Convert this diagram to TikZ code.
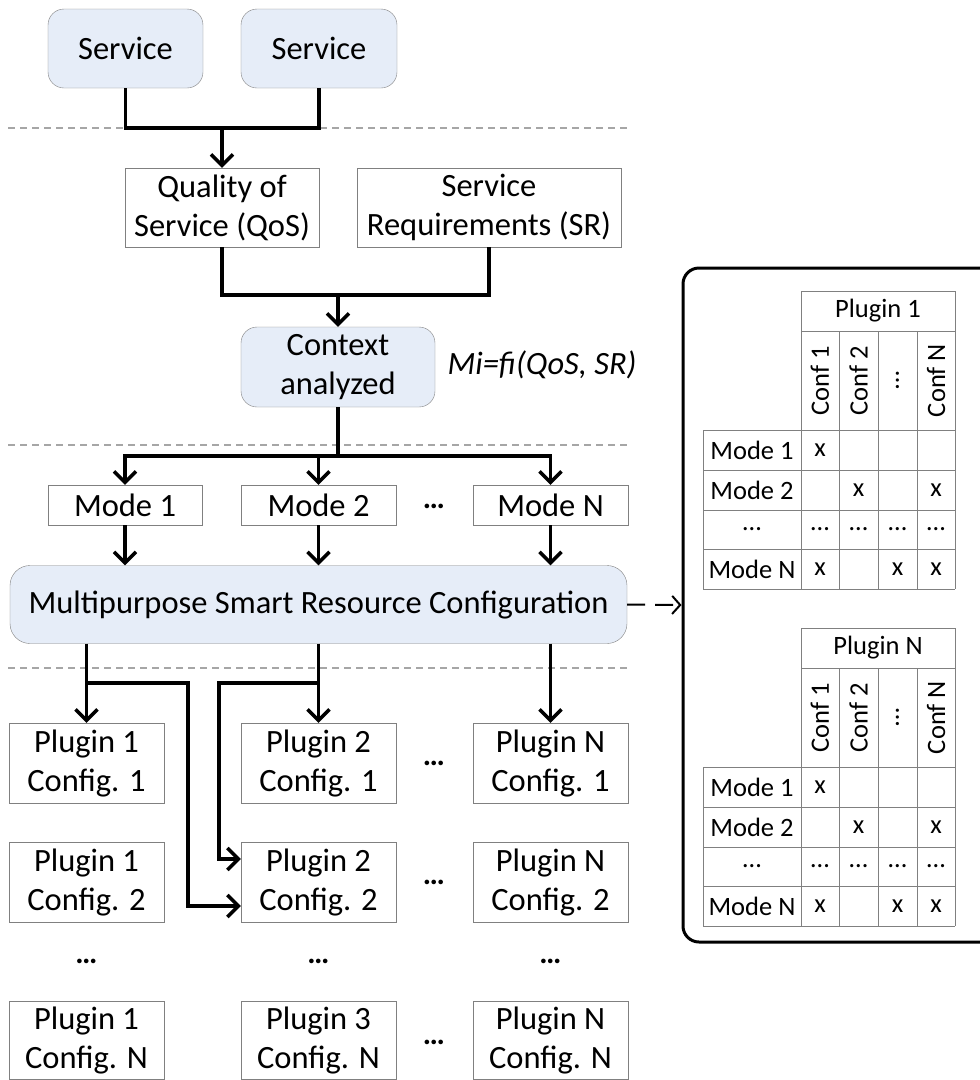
\documentclass[tikz,border=0pt]{standalone}
\usepackage{fontspec}
\setmainfont{Carlito}
\usepackage{xcolor}
\usetikzlibrary{arrows.meta, positioning}

\definecolor{svcfill}{RGB}{230,237,248}
\definecolor{edgegray}{RGB}{128,128,128}

\begin{document}
\begin{tikzpicture}[x=1pt, y=-1pt,
        font=\fontsize{32.5}{39}\selectfont,
        svc/.style={draw=edgegray, fill=svcfill, rounded corners=16pt, align=center, inner sep=0pt},
        box/.style={draw=edgegray, fill=white, align=center, inner sep=0pt},
        wire/.style={line width=3.5pt},
        link/.style={line width=3.5pt, -{Straight Barb[length=11pt, width=22pt]}},
        sep/.style={draw=gray!70, line width=1.3pt, dash pattern=on 7pt off 5pt},
        tline/.style={draw=edgegray, line width=1pt},
        tcell/.style={font=\fontsize{26.5}{30}\selectfont, inner sep=0pt},
        dots/.style={font=\fontsize{31}{39}\selectfont\bfseries, inner sep=0pt}]

        \useasboundingbox (0,0) rectangle (980,1080);

        \draw[sep] (8,128) -- (628,128);
        \draw[sep] (8,445) -- (628,445);
        \draw[sep] (8,668) -- (628,668);

        \node[svc, minimum width=155pt, minimum height=79pt] at (125.5, 48.5) (s1) {Service};
        \node[svc, minimum width=156pt, minimum height=79pt] at (319, 48.5) (s2) {Service};

        \node[box, minimum width=194pt, minimum height=79pt] at (222, 207.5) (qos) {Quality of\\Service (QoS)};
        \node[box, minimum width=264pt, minimum height=79pt] at (489, 207.5) (sr) {Service\\Requirements (SR)};

        \node[svc, minimum width=194pt, minimum height=80pt] at (338, 367) (ctx) {Context\\analyzed};
        \node[anchor=west, font=\fontsize{32.5}{39}\selectfont\itshape] at (444, 365) (rule) {Mi=fi(QoS, SR)};

        \node[box, minimum width=154pt, minimum height=40pt] at (125, 505) (m1) {Mode 1};
        \node[box, minimum width=155pt, minimum height=40pt] at (318.5, 505) (m2) {Mode 2};
        \node[dots] at (434, 506) (mdots) {…};
        \node[box, minimum width=155pt, minimum height=40pt] at (550.5, 505) (mN) {Mode N};

        \node[svc, rounded corners=20pt, minimum width=617pt, minimum height=78pt] at (318.5, 604.5) (msrc) {Multipurpose Smart Resource Configuration};

        \node[box, minimum width=155pt, minimum height=80pt] at (86.5, 763) (p11) {Plugin 1\\Config. 1};
        \node[box, minimum width=155pt, minimum height=80pt] at (318.5, 763) (p21) {Plugin 2\\Config. 1};
        \node[box, minimum width=155pt, minimum height=80pt] at (550.5, 763) (pN1) {Plugin N\\Config. 1};
        \node[box, minimum width=155pt, minimum height=80pt] at (86.5, 882) (p12) {Plugin 1\\Config. 2};
        \node[box, minimum width=155pt, minimum height=80pt] at (318.5, 882) (p22) {Plugin 2\\Config. 2};
        \node[box, minimum width=155pt, minimum height=80pt] at (550.5, 882) (pN2) {Plugin N\\Config. 2};
        \node[box, minimum width=155pt, minimum height=78pt] at (86.5, 1040) (p1N) {Plugin 1\\Config. N};
        \node[box, minimum width=155pt, minimum height=78pt] at (318.5, 1040) (p3N) {Plugin 3\\Config. N};
        \node[box, minimum width=155pt, minimum height=78pt] at (550.5, 1040) (pNN) {Plugin N\\Config. N};

        \node[dots] at (434, 763) (hd1) {…};
        \node[dots] at (434, 882) (hd2) {…};
        \node[dots] at (434, 1042) (hd3) {…};
        \node[dots] at (86.5, 961) (vd1) {…};
        \node[dots] at (318.5, 961) (vd2) {…};
        \node[dots] at (550.5, 961) (vd3) {…};

        % services to QoS
        \coordinate (j1) at (222, 128);
        \draw[wire] (s1.south) |- (j1) -| (s2.south);
        \draw[link] (j1) -- (qos.north);

        % QoS and SR to context
        \coordinate (j2) at (338, 295);
        \draw[wire] (qos.south) |- (j2) -| (sr.south);
        \draw[link] (j2) -- (ctx.north);

        % context to modes
        \coordinate (j3) at (338, 456);
        \draw[wire] (ctx.south) -- (j3);
        \draw[link] (j3) -| (m1.north);
        \draw[link] (j3) -| (mN.north);
        \draw[link] (m2.north |- j3) -- (m2.north);

        \draw[link] (m1.south) -- (m1.south |- msrc.north);
        \draw[link] (m2.south) -- (m2.south |- msrc.north);
        \draw[link] (mN.south) -- (mN.south |- msrc.north);

        % configuration to plugins
        \coordinate (b1) at (188, 683);
        \coordinate (b2) at (219, 683);
        \draw[link] (msrc.south -| p11.north) -- (p11.north);
        \draw[link] (msrc.south -| p21.north) -- (p21.north);
        \draw[link] (msrc.south -| pN1.north) -- (pN1.north);
        \draw[link] (p11.north |- b1) -- (b1) |- ([yshift=-24pt]p22.west);
        \draw[link] (p21.north |- b2) -- (b2) |- ([yshift=23pt]p22.west);

        % mode/config tables
        \node[draw, line width=3pt, rounded corners=16pt, minimum width=330pt, minimum height=674pt] at (848, 605) (panel) {};
        \draw[line width=2pt, dash pattern=on 18pt off 10pt, -{Straight Barb[length=8pt, width=18pt]}] (msrc.east) -- (panel.west);

        \foreach \dy/\tn/\plug in {0/ta/Plugin 1, 337/tb/Plugin N}{
            \begin{scope}[shift={(0,\dy)}]
                \draw[tline] (801,291) rectangle (955,331);
                \foreach \x in {801,839,878,917,955} \draw[tline] (\x,331) -- (\x,589);
                \foreach \y in {430,470,510,549,589} \draw[tline] (703,\y) -- (955,\y);
                \draw[tline] (703,430) -- (703,589);
                \node[tcell] at (878, 311) (\tn-head) {\plug};
                \node[tcell, rotate=90] at (820, 380.5) (\tn-c1) {Conf 1};
                \node[tcell, rotate=90] at (858.5, 380.5) (\tn-c2) {Conf 2};
                \node[tcell, rotate=90] at (897.5, 380.5) (\tn-c3) {…};
                \node[tcell, rotate=90] at (936, 380.5) (\tn-c4) {Conf N};
                \node[tcell] at (752, 450) (\tn-r1) {Mode 1};
                \node[tcell] at (752, 490) (\tn-r2) {Mode 2};
                \node[tcell] at (752, 529.5) (\tn-r3) {…};
                \node[tcell] at (752, 569) (\tn-r4) {Mode N};
                \foreach \mx/\my [count=\k] in {820/450, 858.5/490, 936/490, 820/569, 897.5/569, 936/569}
                    \node[tcell] at (\mx, \my) (\tn-x\k) {x};
                \foreach \mx [count=\k] in {820, 858.5, 897.5, 936}
                    \node[tcell] at (\mx, 529.5) (\tn-d\k) {…};
            \end{scope}
        }
\end{tikzpicture}
\end{document}
